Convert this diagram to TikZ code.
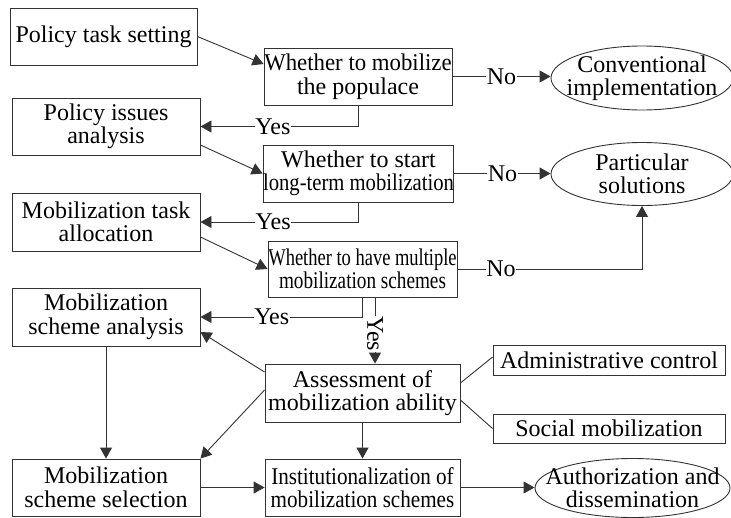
\documentclass[tikz,border=0pt]{standalone}
\usepackage{fontspec}
\setmainfont{Liberation Serif}
\usetikzlibrary{arrows.meta,shapes.geometric}
\begin{document}
\begin{tikzpicture}[x=1pt,y=-1pt,
  every node/.style={font=\fontsize{24}{23.5}\selectfont, text=black},
  box/.style 2 args={draw=black!80, line width=0.9pt, align=center, inner sep=0pt,
    minimum width=#1pt, minimum height=#2pt},
  oval/.style 2 args={ellipse, draw=black!80, line width=0.9pt, align=center,
    inner xsep=-60pt, inner ysep=-30pt,
    minimum width=#1pt, minimum height=#2pt},
  ln/.style={draw=black!80, line width=0.9pt},
  arr/.style={ln, -{Triangle[length=11pt,width=12pt]}},
  lab/.style={fill=white, inner sep=0.5pt}
]
\useasboundingbox (0,0) rectangle (731,517);

% nodes
\node[box={187}{57}] (pts) at (103.5,36.5) {Policy task setting};
\node[box={188}{57}] (w1) at (358,76.5) {\scalebox{0.95}[1]{Whether to mobilize}\\the populace};
\node[oval={182}{64}] (ci) at (642,78) {Conventional\\implementation};
\node[box={188}{57}] (pia) at (106,126.5) {Policy issues\\analysis};
\node[box={189}{57}] (w2) at (358.5,173.5) {Whether to start\\\scalebox{0.86}[1]{long-term mobilization}};
\node[oval={182}{63}] (ps) at (642,174) {Particular\\solutions};
\node[box={188}{58}] (mta) at (106,222) {Mobilization task\\allocation};
\node[box={189}{56}] (w3) at (362.5,269) {\scalebox{0.77}[1]{Whether to have multiple}\\\scalebox{0.8}[1]{mobilization schemes}};
\node[box={188}{58}] (msa) at (106,317) {Mobilization\\scheme analysis};
\node[box={195}{58}] (ama) at (362.5,393) {Assessment of\\mobilization ability};
\node[box={232}{30}] (adm) at (609,360) {Administrative control};
\node[box={232}{29}] (soc) at (609,428.5) {Social mobilization};
\node[box={188}{57}] (mss) at (106,487.5) {Mobilization\\scheme selection};
\node[box={195}{57}] (ins) at (362.5,487.5) {\scalebox{0.88}[1]{Institutionalization of}\\\scalebox{0.88}[1]{mobilization schemes}};
\node[oval={195}{59}] (ad) at (632.5,488) {Authorization and\\dissemination};

% connectors
\draw[arr] (pts.east) -- ([yshift=12.5pt]w1.west);
\draw[arr] (w1.south) |- node[lab, pos=0.77] (y1) {Yes} (pia.east);
\draw[arr] (w1.east) -- node[lab] (n1) {No} (w1.east -| ci.west);
\draw[arr] ([yshift=-18.5pt]pia.east) -- (w2.west);
\draw[arr] (w2.south) |- node[lab, pos=0.77] (y2) {Yes} (mta.east);
\draw[arr] (w2.east) -- node[lab] (n2) {No} (w2.east -| ps.west);
\draw[arr] ([yshift=-15pt]mta.east) -- (w3.west);
\draw[arr] (w3.south) |- node[lab, pos=0.78] (y3) {Yes} (msa.east);
\draw[arr] (w3.east) -| node[lab, pos=0.118] (n3) {No} (ps.south);
\draw[arr] ([xshift=12.5pt]w3.south) -- node[lab, rotate=-90, pos=0.55] (y4) {Yes} ([xshift=12.5pt]w3.south |- ama.north);
\draw[arr] ([yshift=21pt]ama.west) -- ([yshift=-15pt]msa.east);
\draw[arr] ([yshift=3pt]ama.west) -- (mss.north east);
\draw[arr] (msa.south) -- (mss.north);
\draw[arr] (ama.south) -- (ins.north);
\draw[arr] (mss.east) -- (ins.west);
\draw[arr] (ins.east) -- (ins.east -| ad.west);
\draw[ln] ([yshift=10pt]ama.east) -- ([yshift=3pt]adm.west);
\draw[ln] ([yshift=-7pt]ama.east) -- (soc.west);
\end{tikzpicture}
\end{document}
